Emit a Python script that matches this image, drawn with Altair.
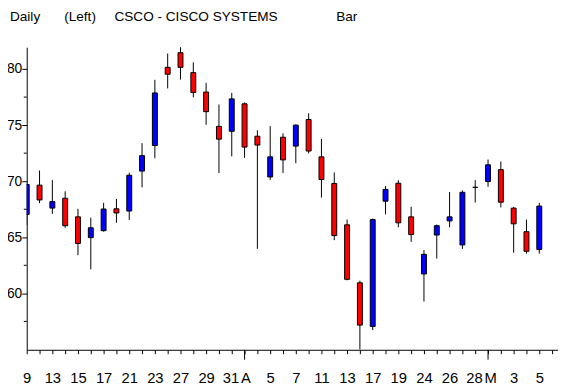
import json
import altair as alt
import pandas as pd

# ---- data ----
opens  = [67.04, 69.65, 67.60, 68.48, 66.82, 64.97, 65.59, 67.54, 67.34, 70.90,
          73.18, 80.15, 81.46, 79.68, 77.95, 74.89, 74.45, 76.90, 74.01, 70.38,
          73.92, 73.13, 75.50, 72.17, 69.80, 66.11, 60.94, 57.04, 68.22, 69.82,
          66.82, 61.73, 65.20, 66.46, 64.32, 69.45, 69.97, 71.03, 67.60, 65.50,
          63.92]
highs  = [69.80, 70.96, 70.09, 69.10, 67.54, 66.75, 68.07, 68.42, 70.76, 73.39,
          79.04, 81.38, 82.02, 80.60, 78.77, 76.84, 77.87, 77.02, 74.54, 74.91,
          74.27, 75.06, 76.05, 73.77, 70.79, 66.58, 61.14, 66.67, 69.56, 70.09,
          67.72, 63.86, 66.14, 69.04, 69.18, 70.09, 71.93, 71.75, 67.69, 66.58,
          68.07]
lows   = [66.10, 68.04, 67.08, 65.85, 63.40, 62.13, 65.50, 66.29, 66.55, 69.45,
          72.04, 78.27, 79.06, 77.48, 75.03, 70.73, 72.22, 72.08, 63.97, 70.11,
          70.73, 71.60, 72.48, 68.54, 64.74, 61.16, 55.00, 56.73, 67.04, 65.90,
          64.59, 59.27, 63.10, 65.90, 63.97, 68.10, 69.50, 67.66, 63.62, 63.54,
          63.54]
closes = [69.70, 68.33, 68.18, 66.03, 64.45, 65.85, 67.52, 67.17, 70.53, 72.28,
          77.87, 79.54, 80.15, 77.92, 76.20, 73.75, 77.34, 73.04, 73.22, 72.17,
          71.90, 75.00, 72.69, 70.15, 65.15, 61.25, 57.17, 66.58, 69.27, 66.29,
          65.24, 63.48, 66.03, 66.82, 69.01, 69.45, 71.46, 68.13, 66.20, 63.75,
          67.78]
day_labels = ["9", "", "13", "", "15", "", "17", "", "21", "", "23", "", "27", "",
              "29", "", "31", "A", "", "5", "", "7", "", "11", "", "13", "", "17",
              "", "19", "", "24", "", "26", "", "28", "M", "", "3", "", "5", ""]
month_ticks = [17, 36]
y_major = [60, 65, 70, 75, 80]
y_minor = [57.5, 62.5, 67.5, 72.5, 77.5]
title_parts = ["Daily", "(Left)", "CSCO - CISCO SYSTEMS", "Bar"]

df = pd.DataFrame({
    "idx": list(range(len(opens))),
    "open": opens, "high": highs, "low": lows, "close": closes,
})
df["dir"] = ["up" if c >= o else "down" for o, c in zip(opens, closes)]

LABEL_FONT = "Liberation Sans, Arial, sans-serif"
TITLE_FONT = "Liberation Sans, Arial, sans-serif"

xscale = alt.Scale(domain=[0, 41.46], nice=False, zero=False, padding=0)
yscale = alt.Scale(domain=[54.97, 81.95], nice=False, zero=False, padding=0)

x_axis = alt.Axis(
    values=list(range(len(day_labels))),
    labelExpr=json.dumps(day_labels) + "[datum.value]",
    labelAlign={"expr": "datum.value == 35 || datum.value == 16 ? 'right' : (datum.value == 36 || datum.value == 17 ? 'left' : 'center')"},
    labelOffset={"expr": "datum.value == 35 || datum.value == 16 ? 7 : (datum.value == 36 || datum.value == 17 ? -4 : 0)"},
    tickSize=4, labelPadding=29, labelBaseline="alphabetic",
    labelAngle=0, labelOverlap=False, labelFlush=False, grid=False,
    domainColor="black", tickColor="black", labelColor="black",
    labelFont=LABEL_FONT, labelFontSize=15, title=None,
)
y_axis = alt.Axis(
    values=y_major, tickSize=5, labelPadding=0, grid=False,
    domainColor="black", tickColor="black", labelColor="black",
    labelFont=LABEL_FONT, labelFontSize=14, title=None,
)

x_enc = alt.X("idx:Q", scale=xscale, axis=x_axis, title=None)

base = alt.Chart(df)
wicks = base.mark_rule(color="black", strokeWidth=1, clip=True).encode(
    x=x_enc,
    y=alt.Y("low:Q", scale=yscale, axis=y_axis, title=None),
    y2="high:Q",
)
bodies = base.mark_bar(size=5, stroke="black", strokeWidth=1, clip=True).encode(
    x=x_enc,
    y=alt.Y("open:Q", scale=yscale, axis=y_axis, title=None),
    y2="close:Q",
    color=alt.Color("dir:N", scale=alt.Scale(domain=["up", "down"],
                                             range=["#0000FF", "#FF0000"]),
                    legend=None),
)

long_ticks = alt.Chart(pd.DataFrame({"idx": month_ticks})).mark_rule(
    color="black", strokeWidth=1).encode(
    x=x_enc,
    y=alt.value(307), y2=alt.value(317),
)
minor_ticks = alt.Chart(pd.DataFrame({"low": y_minor})).mark_rule(
    color="black", strokeWidth=1).encode(
    y=alt.Y("low:Q", scale=yscale, axis=y_axis, title=None),
    x=alt.value(-3), x2=alt.value(0),
)

title_x = [-17, 38, 89, 314]
titles = []
for txt, tx in zip(title_parts, title_x):
    titles.append(
        alt.Chart(pd.DataFrame({"t": [txt]})).mark_text(
            align="left", baseline="alphabetic", font=TITLE_FONT,
            fontSize=13.8, color="black").encode(
            x=alt.value(tx), y=alt.value(-27), text="t:N")
    )

chart = alt.layer(wicks, bodies, long_ticks, minor_ticks, *titles).properties(
    width=539, height=307,
    autosize=alt.AutoSizeParams(type="none"),
    padding={"left": 19, "top": 37, "right": 0, "bottom": 34},
    background="white",
).configure_view(stroke=None)

chart.save("out.html", embed_options={"renderer": "svg", "actions": False})
